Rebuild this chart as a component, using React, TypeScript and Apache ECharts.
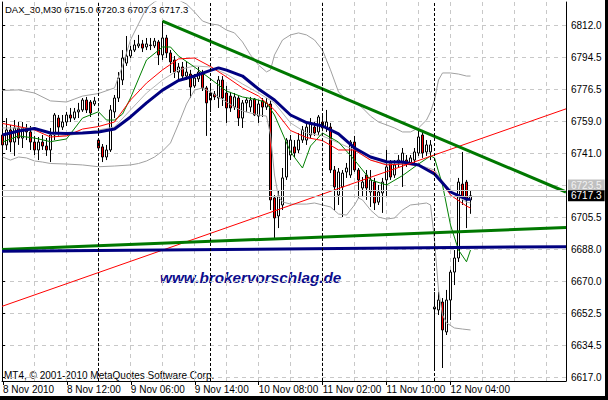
import React, { useEffect, useRef } from "react";
import * as echarts from "echarts";

const FONT = "'Liberation Sans', Arial, sans-serif";

const TITLE = "DAX_30,M30 6715.0 6720.3 6707.3 6717.3";
const COPYRIGHT = "MT4, \u00a9 2001-2010 MetaQuotes Software Corp.";
const WATERMARK = "www.brokervorschlag.de";

const X_TICK_LABELS = ["8 Nov 2010", "8 Nov 12:00", "9 Nov 06:00", "9 Nov 14:00", "10 Nov 08:00", "11 Nov 02:00", "11 Nov 10:00", "12 Nov 04:00"];
const Y_TICK_LABELS = ["6617.0", "6634.5", "6652.5", "6670.0", "6688.0", "6705.5", "6723.5", "6741.0", "6759.0", "6776.5", "6794.5", "6812.0"];
const DAY_STARTS = [24, 52, 80, 108];
const BID = 6717.3;
const ASK = 6720.3;

// [open, close, low, high], one per M30 bar
const CANDLES = [
  [6751.0, 6745.5, 6738.3, 6754.9], [6745.5, 6753.8, 6742.7, 6760.4], [6753.8, 6747.1, 6741.6, 6756.6], [6747.1, 6754.9, 6739.4, 6759.3],
  [6754.9, 6749.3, 6745.5, 6758.2], [6749.3, 6754.9, 6743.8, 6758.2], [6754.9, 6752.7, 6748.2, 6757.1], [6752.7, 6747.1, 6742.7, 6756.0],
  [6747.1, 6742.7, 6739.9, 6750.5], [6742.7, 6747.1, 6737.1, 6749.9], [6747.1, 6744.9, 6742.7, 6751.0], [6744.9, 6742.7, 6739.4, 6749.3],
  [6742.7, 6751.0, 6736.0, 6754.9], [6751.0, 6762.1, 6748.2, 6763.2], [6760.4, 6755.4, 6749.9, 6762.1], [6755.4, 6758.2, 6753.8, 6762.1],
  [6758.2, 6762.1, 6756.0, 6763.8], [6762.1, 6760.4, 6758.2, 6766.0], [6760.4, 6763.8, 6759.3, 6766.0], [6763.8, 6764.9, 6760.4, 6768.8],
  [6764.9, 6770.4, 6763.8, 6771.5], [6770.4, 6764.9, 6763.2, 6772.1], [6769.3, 6763.2, 6761.0, 6770.4], [6768.2, 6769.9, 6767.1, 6772.1],
  [6748.2, 6743.8, 6742.7, 6749.3], [6744.4, 6738.8, 6736.0, 6746.0], [6738.8, 6742.7, 6737.1, 6745.5], [6742.7, 6764.9, 6741.6, 6767.6],
  [6763.8, 6771.5, 6760.4, 6773.2], [6771.5, 6782.6, 6769.3, 6785.9], [6781.5, 6793.7, 6778.7, 6798.1], [6790.9, 6794.8, 6789.3, 6805.9],
  [6794.8, 6798.1, 6793.7, 6800.4], [6798.1, 6800.9, 6797.0, 6803.7], [6800.4, 6801.5, 6799.2, 6806.5], [6801.5, 6799.2, 6797.0, 6803.7],
  [6799.8, 6801.5, 6798.1, 6804.8], [6800.9, 6800.6, 6798.1, 6804.8], [6800.4, 6803.1, 6799.2, 6804.8], [6802.6, 6795.4, 6789.8, 6803.7],
  [6795.4, 6804.8, 6792.6, 6814.2], [6804.8, 6796.5, 6793.7, 6806.5], [6796.5, 6791.5, 6785.4, 6798.1], [6792.6, 6785.9, 6782.6, 6794.8],
  [6785.9, 6788.7, 6781.5, 6790.9], [6788.7, 6783.7, 6782.1, 6791.5], [6783.7, 6785.9, 6781.5, 6791.5], [6784.8, 6777.6, 6771.5, 6787.1],
  [6778.2, 6782.6, 6777.1, 6784.8], [6782.1, 6785.9, 6780.4, 6788.7], [6785.4, 6777.1, 6775.4, 6787.1], [6777.1, 6768.8, 6750.5, 6778.2],
  [6770.4, 6774.3, 6763.8, 6778.2], [6773.7, 6772.1, 6770.4, 6775.4], [6771.5, 6781.5, 6766.0, 6783.7], [6781.5, 6771.5, 6767.1, 6783.7],
  [6774.3, 6766.0, 6757.7, 6778.2], [6772.6, 6766.0, 6763.8, 6774.9], [6766.5, 6772.1, 6764.9, 6774.3], [6771.5, 6760.4, 6756.0, 6772.6],
  [6760.4, 6768.8, 6754.9, 6770.4], [6768.8, 6770.4, 6763.8, 6771.5], [6766.5, 6770.4, 6763.8, 6772.1], [6771.0, 6762.1, 6761.5, 6771.5],
  [6761.5, 6768.2, 6757.7, 6770.4], [6769.9, 6766.5, 6761.0, 6771.5], [6766.5, 6768.8, 6764.9, 6771.5], [6768.2, 6715.0, 6709.4, 6770.4],
  [6716.1, 6705.0, 6693.9, 6717.7], [6706.1, 6717.2, 6699.4, 6720.5], [6712.2, 6727.2, 6709.4, 6732.7], [6727.7, 6748.2, 6726.1, 6749.3],
  [6739.9, 6748.2, 6737.1, 6751.0], [6744.4, 6741.0, 6738.8, 6748.2], [6742.7, 6748.2, 6741.0, 6752.1], [6748.2, 6753.8, 6746.6, 6756.0],
  [6748.2, 6755.4, 6745.5, 6757.1], [6751.0, 6757.7, 6749.3, 6760.4], [6755.4, 6752.1, 6750.5, 6758.2], [6752.7, 6761.0, 6751.0, 6762.1],
  [6758.2, 6754.9, 6753.8, 6762.1], [6754.9, 6758.2, 6752.7, 6764.9], [6755.4, 6731.6, 6729.9, 6757.7], [6731.6, 6722.2, 6709.4, 6733.8],
  [6717.7, 6730.5, 6712.2, 6732.7], [6722.2, 6729.9, 6705.5, 6731.6], [6730.5, 6732.7, 6727.2, 6735.5], [6728.8, 6747.1, 6727.2, 6748.2],
  [6747.1, 6731.6, 6730.5, 6750.5], [6731.6, 6726.1, 6716.1, 6732.7], [6721.6, 6724.9, 6716.6, 6727.7], [6728.8, 6721.6, 6715.0, 6731.6],
  [6719.4, 6726.1, 6711.1, 6731.6], [6724.9, 6713.3, 6709.4, 6727.2], [6713.8, 6719.4, 6712.2, 6723.3], [6718.9, 6724.9, 6707.8, 6727.2],
  [6726.1, 6733.3, 6716.6, 6742.7], [6735.5, 6727.7, 6726.1, 6737.1], [6728.8, 6734.4, 6727.2, 6737.1], [6735.5, 6737.1, 6732.7, 6739.9],
  [6735.5, 6741.0, 6722.2, 6743.8], [6737.1, 6735.5, 6733.3, 6739.9], [6735.5, 6738.3, 6734.4, 6739.9], [6737.1, 6741.6, 6735.5, 6743.8],
  [6741.0, 6749.9, 6739.4, 6753.8], [6751.0, 6741.0, 6738.3, 6753.8], [6741.6, 6745.5, 6739.4, 6748.2], [6741.6, 6745.5, 6737.1, 6748.2],
  [6654.5, 6655.6, 6620.7, 6664.0], [6654.0, 6659.5, 6651.2, 6664.0], [6658.4, 6642.9, 6621.8, 6660.6], [6641.8, 6659.5, 6640.1, 6665.1],
  [6659.5, 6675.0, 6648.4, 6676.2], [6675.0, 6682.8, 6667.8, 6687.2], [6682.8, 6724.9, 6680.6, 6727.2], [6723.8, 6716.1, 6712.2, 6741.6],
  [6724.9, 6715.0, 6699.4, 6726.1], [6715.0, 6717.3, 6707.3, 6720.3],
];

// indicator lines: [bar index, price]
const MA_SLOW = [[0, 6751.0], [4, 6753.2], [8, 6754.6], [12, 6752.1], [16, 6751.8], [20, 6752.1], [24, 6752.7], [28, 6754.3], [32, 6761.0], [36, 6768.8], [40, 6775.9], [44, 6781.2], [48, 6783.7], [52, 6786.8], [54, 6788.2], [56, 6787.0], [60, 6783.7], [64, 6776.5], [68, 6770.4], [72, 6762.1], [76, 6757.9], [80, 6756.0], [84, 6751.6], [88, 6743.8], [92, 6738.8], [96, 6736.2], [100, 6736.0], [104, 6734.4], [108, 6729.4], [112, 6719.4], [116, 6715.4], [117, 6715.4]];
const MA_MID = [[0, 6757.4], [4, 6755.7], [8, 6753.8], [12, 6749.9], [16, 6750.5], [20, 6754.3], [24, 6755.7], [28, 6758.2], [32, 6770.4], [36, 6779.8], [40, 6787.1], [44, 6793.2], [48, 6793.7], [52, 6789.0], [56, 6783.2], [60, 6777.1], [64, 6772.6], [68, 6764.9], [72, 6753.5], [76, 6749.6], [80, 6747.9], [84, 6742.7], [88, 6742.7], [92, 6737.1], [96, 6734.4], [100, 6734.9], [104, 6734.1], [108, 6730.5], [112, 6717.7], [116, 6711.6], [117, 6710.5]];
const MA_FAST = [[0, 6747.1], [4, 6750.5], [8, 6749.3], [12, 6747.3], [16, 6748.8], [20, 6760.4], [24, 6763.9], [26, 6759.3], [28, 6759.3], [30, 6762.6], [32, 6771.5], [36, 6792.6], [40, 6799.8], [42, 6799.8], [44, 6794.8], [48, 6788.7], [52, 6782.1], [56, 6775.4], [60, 6772.1], [64, 6770.4], [66, 6768.8], [68, 6762.1], [72, 6741.6], [75, 6732.7], [77, 6744.9], [80, 6752.1], [84, 6747.1], [88, 6737.1], [92, 6726.1], [96, 6723.3], [100, 6728.5], [104, 6734.9], [107, 6739.4], [108, 6738.3], [110, 6723.3], [112, 6701.1], [114, 6687.2], [116, 6680.7], [117, 6687.2]];
const BAND_MID = [[0, 6754.9], [4, 6754.9], [8, 6754.9], [12, 6751.6], [16, 6750.5], [20, 6752.1], [24, 6753.8], [28, 6755.4], [32, 6764.9], [36, 6774.3], [40, 6781.5], [44, 6787.1], [48, 6789.3], [52, 6788.7], [56, 6784.8], [60, 6779.3], [64, 6774.3], [68, 6768.8], [72, 6757.7], [76, 6752.1], [80, 6750.5], [84, 6746.6], [88, 6742.7], [92, 6737.1], [96, 6734.9], [100, 6734.9], [104, 6734.4], [108, 6731.6], [112, 6719.4], [116, 6713.8], [117, 6713.3]];
const BAND_UP = [[0, 6775.7], [4, 6776.0], [8, 6774.3], [12, 6769.9], [16, 6769.3], [20, 6772.6], [24, 6774.0], [28, 6777.1], [30, 6789.3], [32, 6803.7], [34, 6812.6], [36, 6821.4], [38, 6824.8], [40, 6827.0], [42, 6827.0], [44, 6825.9], [46, 6823.6], [48, 6819.2], [50, 6814.2], [52, 6812.6], [54, 6812.0], [56, 6809.2], [58, 6807.6], [60, 6802.6], [62, 6795.4], [64, 6789.8], [66, 6786.0], [67, 6787.1], [68, 6795.4], [70, 6803.7], [72, 6806.5], [74, 6807.6], [76, 6806.5], [78, 6803.7], [80, 6798.1], [82, 6787.1], [84, 6774.9], [86, 6770.4], [88, 6769.3], [90, 6766.0], [92, 6761.5], [94, 6758.2], [96, 6756.6], [98, 6754.9], [100, 6752.7], [102, 6752.7], [104, 6754.9], [106, 6759.3], [107, 6763.8], [108, 6770.4], [109, 6781.5], [110, 6785.4], [112, 6785.4], [114, 6784.8], [116, 6783.7], [117, 6783.7]];
const BAND_LOW = [[0, 6738.8], [2, 6737.1], [4, 6738.8], [6, 6738.3], [8, 6736.6], [10, 6736.0], [12, 6735.2], [16, 6734.9], [20, 6734.4], [24, 6733.4], [28, 6733.8], [32, 6734.4], [34, 6735.2], [36, 6736.6], [38, 6738.8], [40, 6742.1], [42, 6746.6], [44, 6757.1], [46, 6768.2], [48, 6775.9], [50, 6777.1], [52, 6774.9], [54, 6772.1], [56, 6769.3], [58, 6766.5], [60, 6764.3], [62, 6763.2], [64, 6762.1], [66, 6761.5], [67, 6751.0], [68, 6728.8], [69, 6716.6], [70, 6713.9], [72, 6712.7], [76, 6712.7], [78, 6713.3], [80, 6712.2], [82, 6711.1], [84, 6707.2], [86, 6706.6], [88, 6712.2], [89, 6716.1], [90, 6715.0], [92, 6709.4], [94, 6705.5], [96, 6704.4], [98, 6705.0], [100, 6709.4], [102, 6712.2], [104, 6712.7], [106, 6713.3], [107, 6712.2], [108, 6692.8], [109, 6665.1], [110, 6651.2], [111, 6646.8], [113, 6644.0], [115, 6643.4], [117, 6642.9]];

// hand-drawn trend lines: [bar index, price] end points
const TREND_DOWN = [[40, 6814.2], [140.875, 6719.4]];
const TREND_RED = [[-0.125, 6656.0], [140.875, 6765.5]];
const TREND_GREEN = [[-0.125, 6687.5], [140.875, 6699.7]];
const LEVEL_BLUE = [[-0.125, 6686.5], [140.875, 6689.1]];

const X_MIN = -0.125;
const X_MAX = 140.875;
const Y_MIN = 6614.6;
const Y_MAX = 6824.75;

function lineSeries(data: number[][], color: string, width: number) {
  return {
    type: "line",
    xAxisIndex: 0,
    yAxisIndex: 0,
    data,
    symbol: "none",
    showSymbol: false,
    silent: true,
    clip: true,
    lineStyle: { color, width },
  };
}

export default function App() {
  const ref = useRef<HTMLDivElement>(null);

  useEffect(() => {
    document.body.style.margin = "0";
    if (!ref.current) return;
    const chart = echarts.init(ref.current, null, { renderer: "svg" });
    const frameAxisLine = { show: true, onZero: false, lineStyle: { color: "#000000", width: 1 } };
    const option: any = {
      animation: false,
      backgroundColor: "#ffffff",
      grid: [
        { left: 2, right: 42, top: 2, bottom: 19 },
        { left: 2.5, width: 544, top: 2, bottom: 19 },
        { left: 2.5, width: 448, top: 2, bottom: 19 },
        { left: 2, right: 42, top: 25.5, bottom: 22.5 },
      ],
      xAxis: [
        { gridIndex: 0, type: "value", min: X_MIN, max: X_MAX, axisLine: frameAxisLine, axisTick: { show: false }, axisLabel: { show: false }, splitLine: { show: false } },
        { gridIndex: 1, type: "value", min: 0, max: 136, interval: 8, axisLine: { show: false }, axisTick: { show: false }, axisLabel: { show: false }, splitLine: { show: true, lineStyle: { color: "#c8c8c8", type: [4, 4], width: 1 } } },
        {
          gridIndex: 2, type: "category", data: X_TICK_LABELS, boundaryGap: false,
          axisLine: { show: false },
          axisTick: { show: true, interval: 0, length: 4, lineStyle: { color: "#000000" } },
          axisLabel: { interval: 0, align: "left", margin: 3, fontSize: 10, color: "#000000", fontFamily: FONT },
          splitLine: { show: false },
        },
        { gridIndex: 3, type: "value", min: 0, max: 1, show: false },
      ],
      yAxis: [
        { gridIndex: 0, type: "value", min: Y_MIN, max: Y_MAX, position: "left", axisLine: frameAxisLine, axisTick: { show: false }, axisLabel: { show: false }, splitLine: { show: false } },
        { gridIndex: 0, type: "value", min: Y_MIN, max: Y_MAX, position: "right", axisLine: frameAxisLine, axisTick: { show: false }, axisLabel: { show: false }, splitLine: { show: false } },
        { gridIndex: 1, type: "value", min: 0, max: 1, show: false },
        { gridIndex: 2, type: "value", min: 0, max: 1, show: false },
        {
          gridIndex: 3, type: "value", min: 0, max: 11, interval: 1, position: "right",
          axisLine: { show: false },
          axisTick: { show: true, length: 3, lineStyle: { color: "#000000" } },
          axisLabel: {
            margin: 2, fontSize: 10, color: "#000000", fontFamily: FONT,
            formatter: (v: number) => {
              const i = Math.round(v);
              const s = Y_TICK_LABELS[i] ?? "";
              return i === 6 ? `{ask|${s}}` : `{n|${s}}`;
            },
            rich: {
              n: { padding: [0, 3, 0, 3], fontSize: 10, fontFamily: FONT, color: "#000000" },
              ask: { padding: [1, 3, 1, 3], fontSize: 10, fontFamily: FONT, color: "#f2f2f2", backgroundColor: "#c0c0c0" },
            },
          },
          splitLine: { show: true, lineStyle: { color: "#c8c8c8", type: [4, 4], width: 1 } },
        },
      ],
      series: [
        {
          type: "candlestick",
          xAxisIndex: 0,
          yAxisIndex: 0,
          data: CANDLES.map((c, i) => [i, ...c]),
          barWidth: 2,
          silent: true,
          itemStyle: { color: "#ffffff", color0: "#ff0000", borderColor: "#000000", borderColor0: "#000000", borderWidth: 1 },
          markLine: {
            silent: true,
            symbol: ["none", "none"],
            animation: false,
            data: [
              ...DAY_STARTS.map((x) => ({ xAxis: x, lineStyle: { color: "#000000", type: [3, 2], width: 1 }, label: { show: false } })),
              { yAxis: ASK, lineStyle: { color: "#c8c8c8", type: "solid", width: 1 }, label: { show: false } },
              {
                yAxis: BID,
                lineStyle: { color: "#c0c0c0", type: "solid", width: 1 },
                label: {
                  show: true, position: "end", distance: 2, formatter: BID.toFixed(1),
                  color: "#ffffff", backgroundColor: "#000000", padding: [1, 3, 0, 3],
                  fontSize: 10, lineHeight: 10, fontFamily: FONT,
                },
              },
            ],
          },
        },
        lineSeries(BAND_UP, "#a0a0a0", 1),
        lineSeries(BAND_LOW, "#a0a0a0", 1),
        lineSeries(BAND_MID, "#b4b4b4", 1),
        lineSeries(MA_FAST, "#008000", 1),
        lineSeries(MA_MID, "#ff0000", 1),
        lineSeries(MA_SLOW, "#000080", 3),
        lineSeries(TREND_RED, "#ff0000", 1),
        lineSeries(TREND_GREEN, "#007800", 3),
        lineSeries(LEVEL_BLUE, "#000080", 3),
        lineSeries(TREND_DOWN, "#007800", 3),
      ],
      graphic: [
        { type: "text", left: 5, top: 4, silent: true, style: { text: TITLE, fontSize: 9.5, fontFamily: FONT, fill: "#000000" } },
        { type: "text", left: 4, top: 370, silent: true, style: { text: COPYRIGHT, fontSize: 10, fontFamily: FONT, fill: "#000000" } },
        { type: "text", left: 160, top: 270, silent: true, style: { text: WATERMARK, fontSize: 15.3, fontWeight: "bold", fontStyle: "italic", fontFamily: FONT, fill: "#0c0c8c" } },
        { type: "rect", left: 0, top: 396, silent: true, shape: { width: 608, height: 4 }, style: { fill: "#000000" } },
        { type: "rect", left: 605, top: 0, silent: true, shape: { width: 3, height: 400 }, style: { fill: "#000000" } },
      ],
    };
    chart.setOption(option);
    return () => chart.dispose();
  }, []);

  return <div ref={ref} style={{ position: "absolute", left: 0, top: 0, width: 608, height: 400 }} />;
}
